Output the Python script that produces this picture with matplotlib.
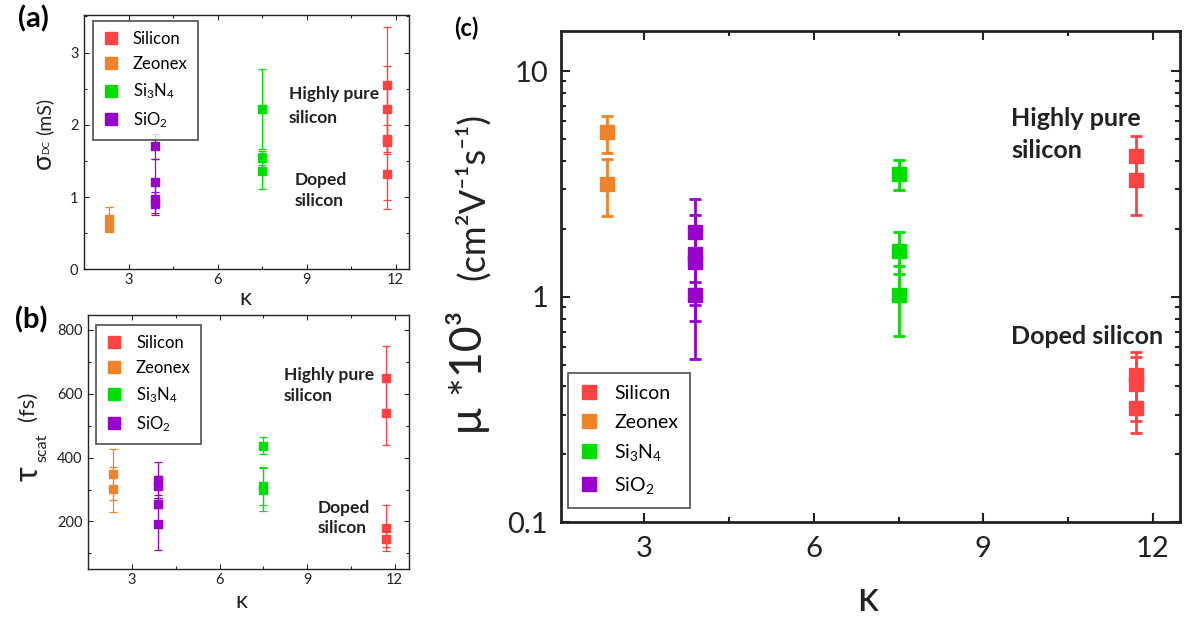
import numpy as np
import matplotlib
matplotlib.use("Agg")
import matplotlib.pyplot as plt
from matplotlib.lines import Line2D
from matplotlib.ticker import MultipleLocator, LogLocator, FuncFormatter, NullFormatter

plt.rcParams['font.family'] = ['Lato', 'DejaVu Sans']
plt.rcParams['mathtext.fontset'] = 'custom'
plt.rcParams['mathtext.rm'] = 'Lato'
plt.rcParams['mathtext.it'] = 'Lato:italic'
plt.rcParams['mathtext.bf'] = 'Lato:bold'

# materials, their dielectric constant and plot colours
materials = ["Silicon", "Zeonex", "Si$_3$N$_4$", "SiO$_2$"]
kappa = [11.7, 2.34, 7.5, 3.9]
colors = ["#ff4343", "#f0822a", "#00dd00", "#9900cc"]

# DC conductivity (mS)
sigma_si = [2.55, 2.22, 1.80, 1.76, 1.32]
sigma_si_err = [0.80, 0.60, 0.20, 0.80, 0.49]
sigma_zeo = [0.70, 0.57]
sigma_zeo_err = [0.16, 0.03]
sigma_sin = [2.22, 1.54, 1.36]
sigma_sin_err = [0.55, 0.10, 0.25]
sigma_sio = [1.70, 1.21, 0.98, 0.91]
sigma_sio_err = [0.17, 0.32, 0.20, 0.16]

# scattering time (fs)
tau_si = [649, 539, 180, 146]
tau_si_err = [100, 100, 72, 25]
tau_zeo = [348, 301]
tau_zeo_err = [80, 70]
tau_sin = [437, 310, 300]
tau_sin_err = [27, 60, 68]
tau_sio = [330, 312, 255, 193]
tau_sio_err = [55, 30, 12, 82]

# mobility (x1e3 cm^2/Vs)
mu_si = [4.20, 3.30, 0.45, 0.41, 0.32]
mu_si_err = [0.95, 1.00, 0.12, 0.13, 0.07]
mu_zeo = [5.35, 3.17]
mu_zeo_err = [1.00, 0.90]
mu_sin = [3.50, 1.60, 1.02]
mu_sin_err = [0.53, 0.34, 0.35]
mu_sio = [1.93, 1.54, 1.42, 1.02]
mu_sio_err = [0.77, 0.76, 0.50, 0.49]

W, H = 1187, 617
fig = plt.figure(figsize=(W / 100, H / 100), dpi=100)


def fxy(x, y):
    return x / W, 1 - y / H


def draw_points(ax, vals, errs, ms, elw, cap):
    for k, v, e, c in zip(kappa, vals, errs, colors):
        ax.errorbar(np.full(len(v), k), v, yerr=e, fmt='s', color=c, mec=c,
                    ms=ms, elinewidth=elw, capsize=cap, capthick=elw, zorder=3)


def style_axes(ax, lw, major, minor, width, size, pad_x, pad_y):
    for sp in ax.spines.values():
        sp.set_linewidth(lw)
        sp.set_color('#222222')
    ax.tick_params(which='both', direction='in', top=True, right=True,
                   width=width, color='#222222', labelcolor='#222222', labelsize=size)
    ax.tick_params(which='major', length=major)
    ax.tick_params(which='minor', length=minor)
    ax.tick_params(axis='x', pad=pad_x)
    ax.tick_params(axis='y', pad=pad_y)


def add_legend(ax, size, ms, loc, anchor, spacing):
    handles = [Line2D([], [], marker='s', ls='none', color=c, ms=ms) for c in colors]
    leg = ax.legend(handles, materials, loc=loc, bbox_to_anchor=anchor, borderaxespad=0,
                    fontsize=size, frameon=True, fancybox=False, handlelength=1.0,
                    handletextpad=0.8, labelspacing=spacing, borderpad=0.6)
    leg.get_frame().set_edgecolor('#222222')
    leg.get_frame().set_linewidth(1.2)


def vtext(x, y, s, size, **kw):
    # rotated label piece, placed by the centre of its box
    fig.text(*fxy(x, y), s, rotation=90, ha='center', va='center',
             fontsize=size, color='#222222', **kw)


def htext(x, y, s, size, **kw):
    fig.text(*fxy(x, y), s, ha='left', va='baseline', fontsize=size, color='#222222', **kw)


# (a) conductivity
ax_a = fig.add_axes([0.0708, 0.5635, 0.2738, 0.4122])
draw_points(ax_a, [sigma_si, sigma_zeo, sigma_sin, sigma_sio],
            [sigma_si_err, sigma_zeo_err, sigma_sin_err, sigma_sio_err], 6, 0.9, 3)
ax_a.set_xlim(1.5, 12.45)
ax_a.set_ylim(0, 3.52)
ax_a.xaxis.set_major_locator(MultipleLocator(3))
ax_a.xaxis.set_minor_locator(MultipleLocator(1.5))
ax_a.yaxis.set_major_locator(MultipleLocator(1))
ax_a.yaxis.set_minor_locator(MultipleLocator(0.5))
style_axes(ax_a, 1.0, 3.5, 2, 0.8, 10.5, 3, 4)
add_legend(ax_a, 12, 8, 'upper left', (0.027, 0.976), 0.55)

# (b) scattering time
ax_b = fig.add_axes([0.0744, 0.0773, 0.2704, 0.4127])
draw_points(ax_b, [tau_si, tau_zeo, tau_sin, tau_sio],
            [tau_si_err, tau_zeo_err, tau_sin_err, tau_sio_err], 6, 0.9, 3)
ax_b.set_xlim(1.5, 12.5)
ax_b.set_ylim(50, 848)
ax_b.xaxis.set_major_locator(MultipleLocator(3))
ax_b.xaxis.set_minor_locator(MultipleLocator(1.5))
ax_b.yaxis.set_major_locator(MultipleLocator(200))
ax_b.yaxis.set_minor_locator(MultipleLocator(100))
style_axes(ax_b, 1.0, 3.5, 2, 0.8, 10.5, 3, 4)
add_legend(ax_b, 12, 8, 'upper left', (0.024, 0.96), 0.55)

# (c) mobility, log scale
ax_c = fig.add_axes([0.4724, 0.1535, 0.5217, 0.7967])
draw_points(ax_c, [mu_si, mu_zeo, mu_sin, mu_sio],
            [mu_si_err, mu_zeo_err, mu_sin_err, mu_sio_err], 10, 2.0, 4.3)
ax_c.set_yscale('log')
ax_c.set_xlim(1.52, 12.48)
ax_c.set_ylim(0.1, 15.1)
ax_c.xaxis.set_major_locator(MultipleLocator(3))
ax_c.xaxis.set_minor_locator(MultipleLocator(1.5))
ax_c.yaxis.set_major_locator(LogLocator(base=10))
ax_c.yaxis.set_minor_locator(LogLocator(base=10, subs=np.arange(2, 10)))
ax_c.yaxis.set_major_formatter(FuncFormatter(lambda v, _: f"{v:g}"))
ax_c.yaxis.set_minor_formatter(NullFormatter())
style_axes(ax_c, 2.0, 6.5, 3.5, 1.5, 21, 10, 9)
add_legend(ax_c, 14, 10, 'lower left', (0.011, 0.03), 0.6)

# panel letters
fig.text(*fxy(33, 19), "(a)", fontsize=21, fontweight='bold', ha='center', va='center')
fig.text(*fxy(31, 320), "(b)", fontsize=21, fontweight='bold', ha='center', va='center')
fig.text(*fxy(466, 28), "(c)", fontsize=17, fontweight='bold', ha='center', va='center')

# axis titles
vtext(43, 161, "σ", 19)
vtext(47, 147, "DC", 7)
vtext(44, 116, "(mS)", 14)

vtext(29, 474, "τ", 23)
vtext(42, 448, "scat", 11.5)
vtext(28, 406, "(fs)", 16)

vtext(468, 372, "μ *10³", 32)
vtext(472, 196, "(cm²V⁻¹s⁻¹)", 26)

fig.text(*fxy(245, 305), "κ", fontsize=17, ha='center', va='baseline', color='#222222')
fig.text(*fxy(241, 608), "κ", fontsize=17, ha='center', va='baseline', color='#222222')
fig.text(*fxy(868, 611), "κ", fontsize=30, ha='center', va='baseline', color='#222222')

# annotations
htext(289, 99, "Highly pure", 12.5, fontweight='bold')
htext(289, 123, "silicon", 12.5, fontweight='bold')
htext(295, 185, "Doped", 12.5, fontweight='bold')
htext(295, 206, "silicon", 12.5, fontweight='bold')

htext(284, 380, "Highly pure", 12.5, fontweight='bold')
htext(284, 401, "silicon", 12.5, fontweight='bold')
htext(318, 513, "Doped", 12.5, fontweight='bold')
htext(318, 533, "silicon", 12.5, fontweight='bold')

htext(1011, 126, "Highly pure", 18, fontweight='bold')
htext(1011, 158, "silicon", 18, fontweight='bold')
htext(1011, 344, "Doped silicon", 18, fontweight='bold')

fig.savefig("out.png", dpi=100)
